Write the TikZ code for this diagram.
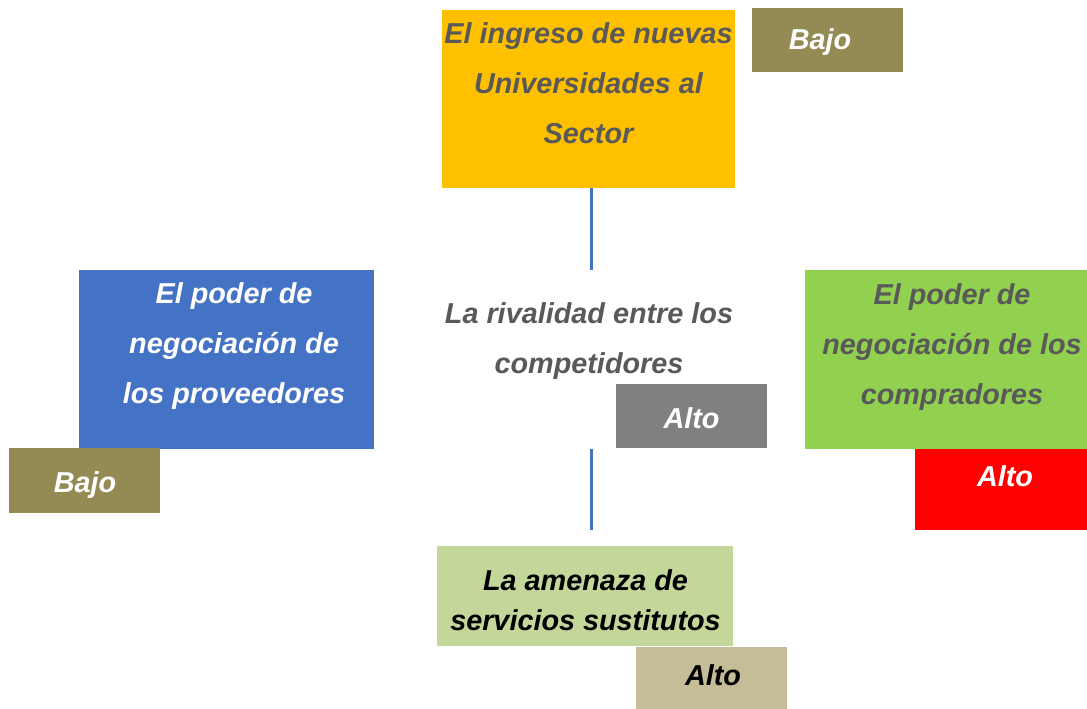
\documentclass[tikz,border=0pt]{standalone}
\usepackage{fontspec}
\setmainfont{Liberation Sans}
\definecolor{cYellow}{HTML}{FFC000}
\definecolor{cOlive}{HTML}{948A54}
\definecolor{cBlue}{HTML}{4472C4}
\definecolor{cGray}{HTML}{808080}
\definecolor{cGreen}{HTML}{92D050}
\definecolor{cRed}{HTML}{FF0000}
\definecolor{cLight}{HTML}{C4D79B}
\definecolor{cTan}{HTML}{C4BD97}
\definecolor{cDark}{HTML}{595959}
\tikzset{
  box/.style={anchor=north west, inner sep=0pt, outer sep=0pt, draw=none},
  txt/.style={anchor=base, align=center, inner sep=0pt, outer sep=0pt,
    font=\fontsize{28.8}{50}\selectfont\bfseries\itshape},
  txtb/.style={txt, font=\fontsize{28.8}{40}\selectfont\bfseries\itshape},
  link/.style={draw=cBlue, line width=3pt}
}
\begin{document}
\begin{tikzpicture}[x=1pt,y=-1pt]
\useasboundingbox (0,0) rectangle (1087,709);
% boxes
\node[box, fill=cYellow, minimum width=293pt, minimum height=178pt] (entry) at (442,10) {};
\node[box, fill=cOlive, minimum width=151pt, minimum height=64pt] (entryL) at (752,8) {};
\node[box, fill=cBlue, minimum width=295pt, minimum height=179pt] (supp) at (79,270) {};
\node[box, fill=cOlive, minimum width=151pt, minimum height=65pt] (suppL) at (9,448) {};
\node[box, minimum width=293pt, minimum height=179pt] (rival) at (442,270) {};
\node[box, fill=cGray, minimum width=151pt, minimum height=64pt] (rivalL) at (616,384) {};
\node[box, fill=cGreen, minimum width=282pt, minimum height=179pt] (buy) at (805,270) {};
\node[box, fill=cRed, minimum width=172pt, minimum height=81pt] (buyL) at (915,449) {};
\node[box, fill=cLight, minimum width=296pt, minimum height=100pt] (subs) at (437,546) {};
\node[box, fill=cTan, minimum width=151pt, minimum height=62pt] (subsL) at (636,647) {};
% connectors
\coordinate (upA) at (591,188);
\coordinate (upB) at (591,270);
\coordinate (dnA) at (591,449);
\coordinate (dnB) at (591,530);
\draw[link] (upA) -- (upB);
\draw[link] (dnA) -- (dnB);
% texts (anchor=base sits on the last line's baseline)
\node[txt, text=cDark] (entryT) at (588.5,143) {El ingreso de nuevas\\Universidades al\\Sector};
\node[txt, text=white] (entryLT) at (820,50) {Bajo};
\node[txt, text=white] (suppT) at (234,403) {El poder de\\negociación de\\los proveedores};
\node[txt, text=white] (suppLT) at (85,492) {Bajo};
\node[txt, text=cDark] (rivalT) at (589,373) {La rivalidad entre los\\competidores};
\node[txt, text=white] (rivalLT) at (691.5,428) {Alto};
\node[txt, text=cDark] (buyT) at (952,404) {El poder de\\negociación de los\\compradores};
\node[txt, text=white] (buyLT) at (1005,486) {Alto};
\node[txtb, text=black] (subsT) at (585.5,630) {La amenaza de\\servicios sustitutos};
\node[txt, text=black] (subsLT) at (713,685) {Alto};
\end{tikzpicture}
\end{document}
